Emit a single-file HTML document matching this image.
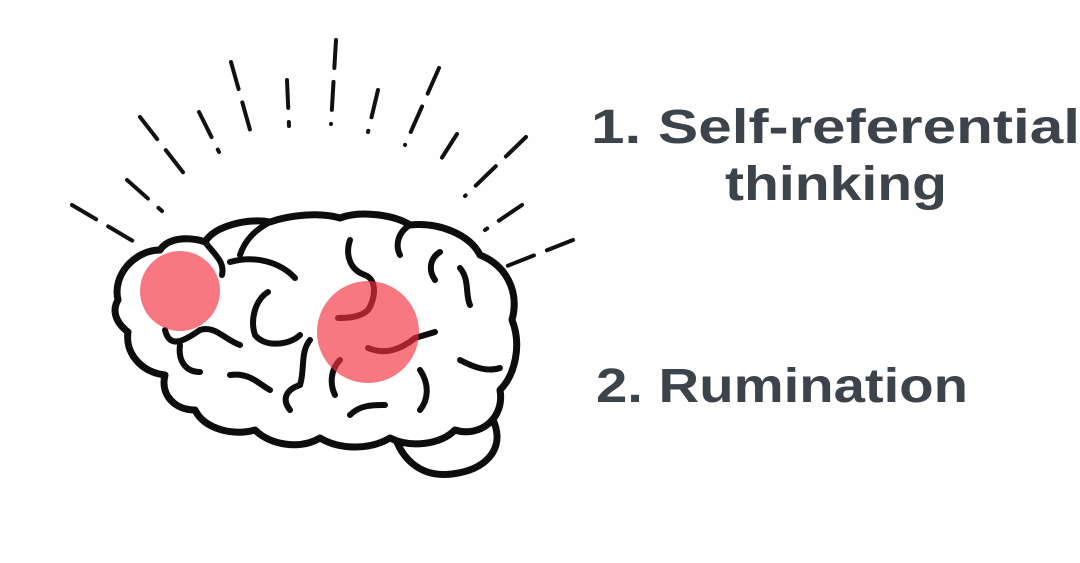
<!DOCTYPE html>
<html><head><meta charset="utf-8"><style>
html,body{margin:0;padding:0;background:#fff;width:1080px;height:563px;overflow:hidden}
</style></head><body>
<svg width="1080" height="563" viewBox="0 0 1080 563" xmlns="http://www.w3.org/2000/svg">
<rect width="1080" height="563" fill="#fefefe"/>
<g stroke="#111" stroke-width="4" stroke-linecap="round" fill="none" stroke-dasharray="28 14">
<line x1="72" y1="205" x2="143" y2="247"/>
<line x1="127" y1="180" x2="162" y2="211"/>
<line x1="140" y1="117" x2="189" y2="180"/>
<line x1="199" y1="112" x2="219" y2="152"/>
<line x1="231" y1="62" x2="252" y2="137"/>
<line x1="287" y1="80" x2="289" y2="126"/>
<line x1="336" y1="40" x2="331" y2="124"/>
<line x1="378" y1="90" x2="368" y2="132"/>
<line x1="439" y1="68" x2="405" y2="145"/>
<line x1="457" y1="134" x2="436" y2="167"/>
<line x1="526" y1="137" x2="465" y2="196"/>
<line x1="522" y1="205" x2="485" y2="230"/>
<line x1="573" y1="240" x2="502" y2="268"/>
</g>
<g stroke="#0d0d0d" stroke-width="7" stroke-linecap="round" stroke-linejoin="round" fill="#fff">
<path d="M392 425 C398 458 420 478 452 474 C485 470 505 450 494 422 Z"/>
<path d="M118 300 C112 275 135 250 160 250 C170 235 195 238 205 242 C215 225 250 218 270 222 C290 215 320 212 340 218 C360 210 395 215 410 225 C440 222 470 235 480 255 C505 265 520 290 512 320 C522 345 515 375 500 390 C505 418 480 438 455 430 C440 445 410 448 390 438 C370 450 340 450 320 438 C300 450 270 445 255 430 C235 436 205 430 195 410 C175 410 160 395 165 375 C140 372 125 352 128 332 C115 322 112 310 118 300 Z"/>
</g>
<g stroke="#0d0d0d" stroke-width="6" stroke-linecap="round" fill="none">
<path d="M205 242 C215 255 225 262 222 275"/>
<path d="M270 222 C255 230 245 240 240 255"/>
<path d="M230 262 C255 255 280 262 295 278"/>
<path d="M268 292 C255 300 250 320 255 335 C265 348 290 345 300 335"/>
<path d="M165 330 C170 350 185 340 200 330 C215 325 225 340 240 345"/>
<path d="M180 345 C178 360 185 372 200 372"/>
<path d="M350 240 C345 255 350 270 365 275 C378 280 375 300 368 310 C360 318 345 318 338 318"/>
<path d="M410 225 C398 232 395 245 400 255"/>
<path d="M440 252 C430 258 428 270 435 280"/>
<path d="M460 268 C470 280 465 295 470 305"/>
<path d="M368 348 C385 355 400 350 415 338 L435 332"/>
<path d="M340 360 C330 370 330 385 335 395"/>
<path d="M310 340 C300 352 305 370 300 385"/>
<path d="M230 375 C250 372 260 385 270 390"/>
<path d="M300 385 C285 390 282 400 290 410"/>
<path d="M350 415 C360 405 372 405 385 405"/>
<path d="M460 360 C475 368 488 372 500 368"/>
<path d="M420 370 C430 385 428 400 420 410"/>
</g>
<circle cx="180" cy="291" r="40" fill="#f2303e" opacity="0.65"/>
<circle cx="368" cy="332" r="51" fill="#f2303e" opacity="0.65"/>
<g font-family="'Liberation Sans', sans-serif" fill="#3d434a" font-size="48" font-weight="bold">
<text x="591" y="143" textLength="489" lengthAdjust="spacingAndGlyphs">1. Self-referential</text>
<text x="725" y="200" textLength="222" lengthAdjust="spacingAndGlyphs">thinking</text>
<text x="596" y="402" textLength="372" lengthAdjust="spacingAndGlyphs">2. Rumination</text>
</g>
</svg>
</body></html>
